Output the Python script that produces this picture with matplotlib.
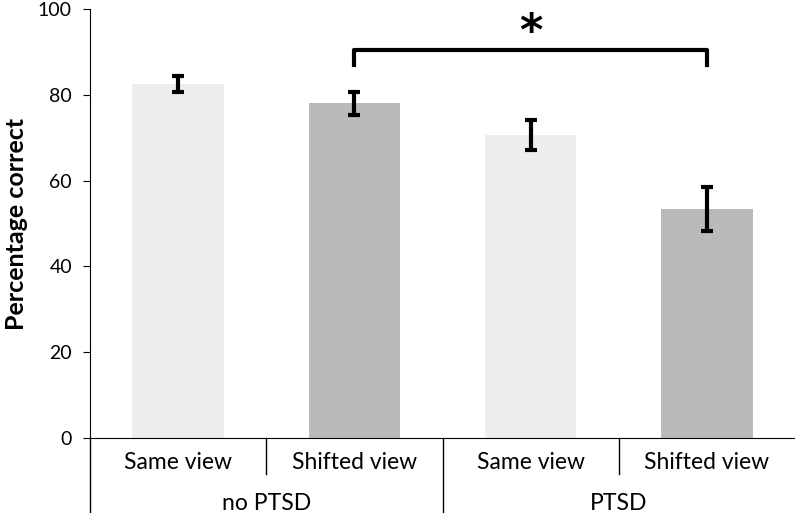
import matplotlib.pyplot as plt

plt.rcParams['font.family'] = ['Lato', 'DejaVu Sans']

conditions = ["Same view", "Shifted view", "Same view", "Shifted view"]
groups = ["no PTSD", "PTSD"]
percent_correct = [82.5, 78.0, 70.6, 53.3]
errors = [1.9, 2.6, 3.5, 5.1]
colors = ["#ededed", "#bababa", "#ededed", "#bababa"]

fig = plt.figure(figsize=(7.95, 5.13), dpi=100)
ax = fig.add_axes([90 / 795, 75 / 513, 705 / 795, 429 / 513])

x = list(range(len(conditions)))
ax.bar(x, percent_correct, width=0.52, color=colors)
ax.errorbar(x, percent_correct, yerr=errors, fmt='none', ecolor='black',
            elinewidth=3, capsize=4, capthick=3)

ax.set_xlim(-0.5, 3.5)
ax.set_ylim(0, 100)
ax.set_yticks(range(0, 101, 20))
ax.tick_params(axis='y', labelsize=14, length=5, direction='out', pad=8)
ax.set_xticks([])
ax.spines['top'].set_visible(False)
ax.spines['right'].set_visible(False)
ax.set_ylabel("Percentage correct", fontsize=18, fontweight='bold')
ax.yaxis.set_label_coords(-0.088, 0.5)

# category table under the axis
tr = ax.get_xaxis_transform()
ax.plot([-0.5, -0.5], [0, -0.175], color='black', lw=1, transform=tr, clip_on=False)
ax.plot([1.5, 1.5], [0, -0.175], color='black', lw=1, transform=tr, clip_on=False)
for xs in [0.5, 2.5]:
    ax.plot([xs, xs], [0, -0.084], color='black', lw=1, transform=tr, clip_on=False)
for i, lab in enumerate(conditions):
    ax.text(i, -0.058, lab, transform=tr, ha='center', va='center', fontsize=16.5)
for j, g in enumerate(groups):
    ax.text(0.5 + 2 * j, -0.152, g, transform=tr, ha='center', va='center', fontsize=16.5)

# significance bracket
ax.plot([1, 1, 3, 3], [87, 90.4, 90.4, 87], color='black', lw=3, clip_on=False)
ax.text(2, 94.5, "*", ha='center', va='center', fontsize=32, fontweight='bold',
        family='DejaVu Sans')

fig.savefig("out.png", dpi=100)
